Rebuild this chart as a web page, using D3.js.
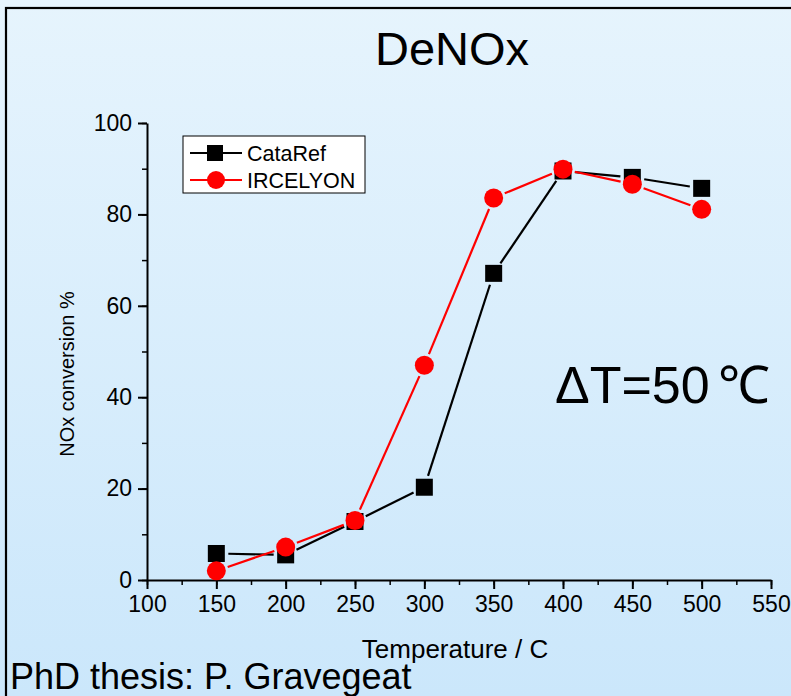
<!DOCTYPE html>
<html>
<head>
<meta charset="utf-8">
<script src="https://cdn.jsdelivr.net/npm/d3@7"></script>
<style>
  body { margin: 0; padding: 0; }
  svg { display: block; font-family: "Liberation Sans", Arial, sans-serif; }
</style>
</head>
<body>
<div id="chart"></div>
<script>
var temps = [150, 200, 250, 300, 350, 400, 450, 500];
var cataRef = [5.8, 5.5, 12.8, 20.3, 67.1, 89.5, 88.1, 85.7];
var ircelyon = [2.0, 7.2, 13.0, 47.0, 83.6, 89.9, 86.6, 81.1];
var xTicks = [100, 150, 200, 250, 300, 350, 400, 450, 500, 550];
var yTicks = [0, 20, 40, 60, 80, 100];

var W = 791, H = 696;
var FONT = "Liberation Sans, Arial, sans-serif";

var svg = d3.select("#chart")
  .append("svg")
    .attr("width", W)
    .attr("height", H);

// background gradient
var grad = svg.append("defs").append("linearGradient")
    .attr("id", "bg").attr("x1", 0).attr("y1", 0).attr("x2", 0).attr("y2", 1);
grad.append("stop").attr("offset", "0%").attr("stop-color", "#e6f4fd");
grad.append("stop").attr("offset", "100%").attr("stop-color", "#cbe7fb");
svg.append("rect").attr("width", W).attr("height", H).attr("fill", "url(#bg)");

// frame (runs off the right and bottom)
svg.append("rect")
  .attr("x", 6).attr("y", 8)
  .attr("width", W + 20).attr("height", H + 20)
  .attr("fill", "none").attr("stroke", "#000").attr("stroke-width", 2.2);

var x = d3.scaleLinear().domain([100, 550]).range([147, 771]);
var y = d3.scaleLinear().domain([0, 100]).range([580, 123]);

// minor ticks
var xMinor = d3.range(100, 551, 25);
var yMinor = d3.range(0, 101, 10);

svg.append("g")
  .attr("transform", "translate(0,580)")
  .call(d3.axisBottom(x).tickValues(xMinor).tickSize(5).tickFormat(""))
  .call(g => g.select(".domain").remove())
  .selectAll("line").attr("stroke-width", 1.5);

svg.append("g")
  .attr("transform", "translate(147,0)")
  .call(d3.axisLeft(y).tickValues(yMinor).tickSize(5).tickFormat(""))
  .call(g => g.select(".domain").remove())
  .selectAll("line").attr("stroke-width", 1.5);

var xAxis = svg.append("g")
  .attr("transform", "translate(0,580)")
  .call(d3.axisBottom(x).tickValues(xTicks).tickSizeInner(9).tickSizeOuter(0).tickPadding(7));
xAxis.select(".domain").attr("stroke-width", 2);
xAxis.selectAll("line").attr("stroke-width", 2);
xAxis.selectAll("text").attr("font-size", 23).attr("fill", "#000").attr("font-family", FONT);

var yAxis = svg.append("g")
  .attr("transform", "translate(147,0)")
  .call(d3.axisLeft(y).tickValues(yTicks).tickSizeInner(9).tickSizeOuter(0).tickPadding(6));
yAxis.select(".domain").attr("stroke-width", 2);
yAxis.selectAll("line").attr("stroke-width", 2);
yAxis.selectAll("text").attr("font-size", 23).attr("fill", "#000").attr("font-family", FONT);

// lines with small gaps next to the markers
function drawSeries(vals, color, gap) {
  var pts = temps.map((t, i) => [x(t), y(vals[i])]);
  var segs = [];
  for (var i = 0; i < pts.length - 1; i++) {
    var a = pts[i], b = pts[i + 1];
    var dx = b[0] - a[0], dy = b[1] - a[1];
    var len = Math.sqrt(dx * dx + dy * dy);
    if (len <= 2 * gap) continue;
    segs.push([a[0] + dx / len * gap, a[1] + dy / len * gap,
               b[0] - dx / len * gap, b[1] - dy / len * gap]);
  }
  svg.append("g").selectAll("line")
    .data(segs)
    .enter().append("line")
      .attr("x1", d => d[0]).attr("y1", d => d[1])
      .attr("x2", d => d[2]).attr("y2", d => d[3])
      .attr("stroke", color).attr("stroke-width", 2.2);
}

drawSeries(cataRef, "#000", 12);
drawSeries(ircelyon, "#ff0000", 12);

svg.append("g").selectAll("rect")
  .data(temps)
  .enter().append("rect")
    .attr("x", (d, i) => x(d) - 8.5)
    .attr("y", (d, i) => y(cataRef[i]) - 8.5)
    .attr("width", 17).attr("height", 17)
    .attr("fill", "#000");

svg.append("g").selectAll("circle")
  .data(temps)
  .enter().append("circle")
    .attr("cx", d => x(d))
    .attr("cy", (d, i) => y(ircelyon[i]))
    .attr("r", 9.5)
    .attr("fill", "#ff0000");

// legend
var leg = svg.append("g");
leg.append("rect")
  .attr("x", 183).attr("y", 136).attr("width", 182).attr("height", 57)
  .attr("fill", "#fff").attr("stroke", "#000").attr("stroke-width", 1);
leg.append("line").attr("x1", 190).attr("x2", 242).attr("y1", 153).attr("y2", 153)
  .attr("stroke", "#000").attr("stroke-width", 2);
leg.append("rect").attr("x", 207).attr("y", 145).attr("width", 16).attr("height", 16).attr("fill", "#000");
leg.append("text").attr("x", 247).attr("y", 161).attr("font-size", 21.5).text("CataRef");
leg.append("line").attr("x1", 190).attr("x2", 242).attr("y1", 180).attr("y2", 180)
  .attr("stroke", "#ff0000").attr("stroke-width", 2);
leg.append("circle").attr("cx", 216).attr("cy", 180).attr("r", 9).attr("fill", "#ff0000");
leg.append("text").attr("x", 247).attr("y", 188).attr("font-size", 21.5).text("IRCELYON");

// titles and notes
svg.append("text").attr("x", 452).attr("y", 65).attr("text-anchor", "middle")
  .attr("font-size", 47).text("DeNOx");

svg.append("text").attr("transform", "translate(74,374) rotate(-90)")
  .attr("text-anchor", "middle").attr("font-size", 20).text("NOx conversion %");

svg.append("text").attr("x", 455).attr("y", 658).attr("text-anchor", "middle")
  .attr("font-size", 26).text("Temperature / C");

svg.append("text").attr("x", 10).attr("y", 689)
  .attr("font-size", 36).text("PhD thesis: P. Gravegeat");

var dt = svg.append("text").attr("x", 555).attr("y", 403).attr("font-size", 52);
dt.append("tspan").text("\u0394T=50");
dt.append("tspan").attr("dx", 8).text("\u2103");
</script>
</body>
</html>
